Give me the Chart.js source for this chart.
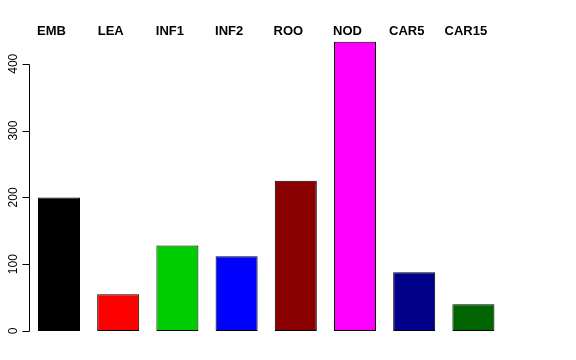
<!DOCTYPE html>
<html>
<head>
<meta charset="utf-8">
<script src="https://cdn.jsdelivr.net/npm/chart.js@4/dist/chart.umd.min.js"></script>
<style>
html,body{margin:0;padding:0;background:#fff;}
#wrap{width:576px;height:360px;position:relative;}
</style>
</head>
<body>
<div id="wrap"><canvas id="c"></canvas></div>
<script>
const categories = ["EMB", "LEA", "INF1", "INF2", "ROO", "NOD", "CAR5", "CAR15"];
const values = [200, 55, 128, 112, 225, 433, 88, 40];
const barColors = ["#000000", "#FF0000", "#00CD00", "#0000FF", "#8B0000", "#FF00FF", "#00008B", "#006400"];
const yTicks = [0, 100, 200, 300, 400];

const rAxis = {
  id: 'rAxis',
  afterDraw(chart) {
    const ctx = chart.ctx;
    const y = chart.scales.y;
    const x0 = Math.floor(chart.chartArea.left) + 0.5;
    ctx.save();
    ctx.strokeStyle = '#000';
    ctx.lineWidth = 1;
    ctx.beginPath();
    const yTop = Math.round(y.getPixelForValue(yTicks[yTicks.length - 1])) + 0.5;
    const yBot = Math.round(y.getPixelForValue(yTicks[0])) + 0.5;
    ctx.moveTo(x0, yTop);
    ctx.lineTo(x0, yBot);
    yTicks.forEach(v => {
      const py = Math.round(y.getPixelForValue(v)) + 0.5;
      ctx.moveTo(x0, py);
      ctx.lineTo(x0 - 7, py);
    });
    ctx.stroke();
    ctx.fillStyle = '#000';
    ctx.font = '12px "Liberation Sans", Arial, sans-serif';
    ctx.textAlign = 'center';
    ctx.textBaseline = 'middle';
    yTicks.forEach(v => {
      const py = y.getPixelForValue(v);
      ctx.save();
      ctx.translate(x0 - 16, py);
      ctx.rotate(-Math.PI / 2);
      ctx.fillText(String(v), 0, 0);
      ctx.restore();
    });
    ctx.restore();
  }
};

new Chart(document.getElementById('c'), {
  type: 'bar',
  data: {
    labels: categories,
    datasets: [{
      data: values,
      backgroundColor: barColors,
      borderColor: '#000',
      borderWidth: 1,
      borderSkipped: false,
      barPercentage: 1,
      categoryPercentage: 0.71
    }]
  },
  options: {
    responsive: true,
    maintainAspectRatio: false,
    animation: false,
    devicePixelRatio: 1,
    layout: { padding: { left: 29.4, right: 73, top: 22, bottom: 19 } },
    plugins: { legend: { display: false }, tooltip: { enabled: false } },
    scales: {
      x: {
        position: 'top',
        grid: { display: false, drawTicks: false },
        border: { display: false },
        ticks: {
          color: '#000',
          padding: 1.4,
          labelOffset: -7.5,
          maxRotation: 0,
          minRotation: 0,
          autoSkip: false,
          font: { family: '"Liberation Sans", Arial, sans-serif', size: 13, weight: 'bold' }
        }
      },
      y: {
        display: false,
        min: -15,
        max: 435
      }
    }
  },
  plugins: [rAxis]
});
</script>
</body>
</html>
